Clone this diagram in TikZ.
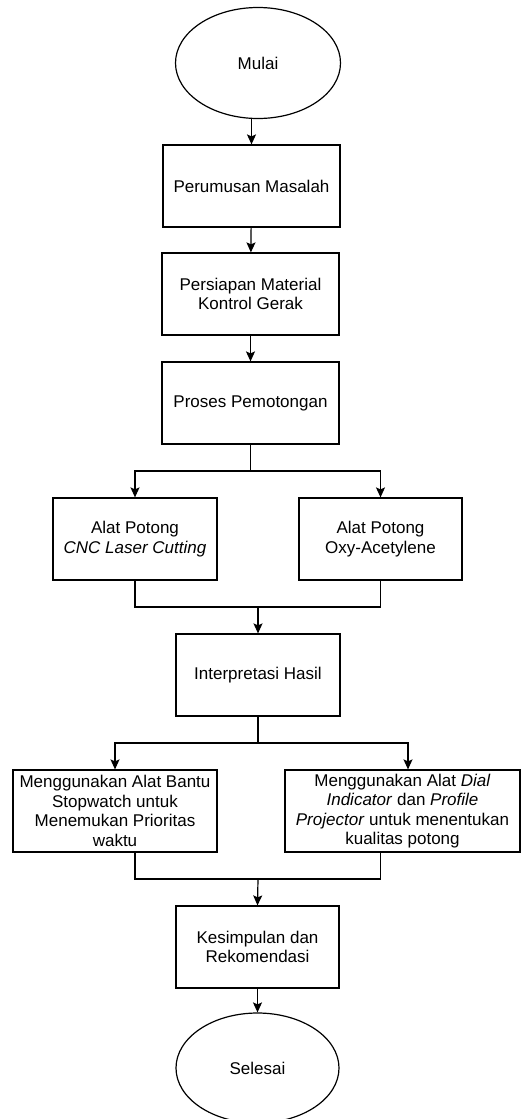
\documentclass[tikz,border=0pt]{standalone}
\usepackage{fontspec}
\setmainfont{Liberation Sans}
\usepackage{tikz}
\usetikzlibrary{arrows.meta,shapes.geometric,positioning}
\tikzstyle{proc} = [draw, rectangle, line width=1.2pt, minimum height=82pt, align=center, inner sep=2pt]
\tikzstyle{term} = [draw, ellipse, line width=1.2pt, inner sep=0pt]
\tikzstyle{line} = [line width=1.2pt]
\tikzstyle{arrow} = [line width=1.2pt,->,>={Stealth[length=10pt,width=9pt,inset=2pt]}]

\begin{document}
\begin{tikzpicture}[x=1pt,y=-1pt,font=\fontsize{17}{19.5}\selectfont]
\useasboundingbox (0,0) rectangle (521,1119);

% Start and main steps
\node[term, minimum width=165pt, minimum height=111pt] (mulai) at (258,63) {Mulai};
\node[proc, minimum width=177pt] (rumus) at (251.5,186) {Perumusan Masalah};
\node[proc, minimum width=177pt] (persiap) at (250.5,294) {Persiapan Material\\Kontrol Gerak};
\node[proc, minimum width=177pt] (proses) at (250.5,403) {Proses Pemotongan};

% Cutting tools
\node[proc, minimum width=164pt] (cnc) at (135,539) {Alat Potong\\\textit{CNC Laser Cutting}};
\node[proc, minimum width=163pt] (oxy) at (380.5,539) {Alat Potong\\Oxy-Acetylene};

\node[proc, minimum width=164pt] (interp) at (258,675) {Interpretasi Hasil};

% Measurement
\node[proc, minimum width=204pt] (stopw) at (115,811) {Menggunakan Alat Bantu\\Stopwatch untuk\\Menemukan Prioritas\\waktu};
\node[proc, minimum width=235pt] (dial) at (402.5,811) {Menggunakan Alat \textit{Dial}\\\textit{Indicator} dan \textit{Profile}\\\textit{Projector} untuk menentukan\\kualitas potong};

\node[proc, minimum width=163pt] (kesim) at (257.5,947) {Kesimpulan dan\\Rekomendasi};
\node[term, minimum width=163pt, minimum height=110pt] (selesai) at (257.5,1068) {Selesai};

% Branch points
\coordinate (s1) at (250.5,471);
\coordinate (m1) at (258,607);
\coordinate (s2) at (258,743);
\coordinate (m2) at (258,879);

% Connectors
\draw[arrow] (mulai.south -| rumus.north) -- (rumus.north);
\draw[arrow] (rumus) -- (persiap);
\draw[arrow] (persiap) -- (proses);
\draw[line] (proses.south) -- (s1);
\draw[arrow] (s1) -| (cnc.north);
\draw[arrow] (s1) -| (oxy.north);
\draw[line] (cnc.south) |- (m1) -| (oxy.south);
\draw[arrow] (m1) -- (interp.north);
\draw[line] (interp.south) -- (s2);
\draw[arrow] (s2) -| (stopw.north);
\draw[arrow] (s2) -| ([xshift=5.5pt]dial.north);
\draw[line] (cnc |- stopw.south) |- (m2) -| (oxy |- dial.south);
\draw[arrow] (m2) -- (kesim.north);
\draw[arrow] (kesim) -- (selesai);
\end{tikzpicture}
\end{document}
